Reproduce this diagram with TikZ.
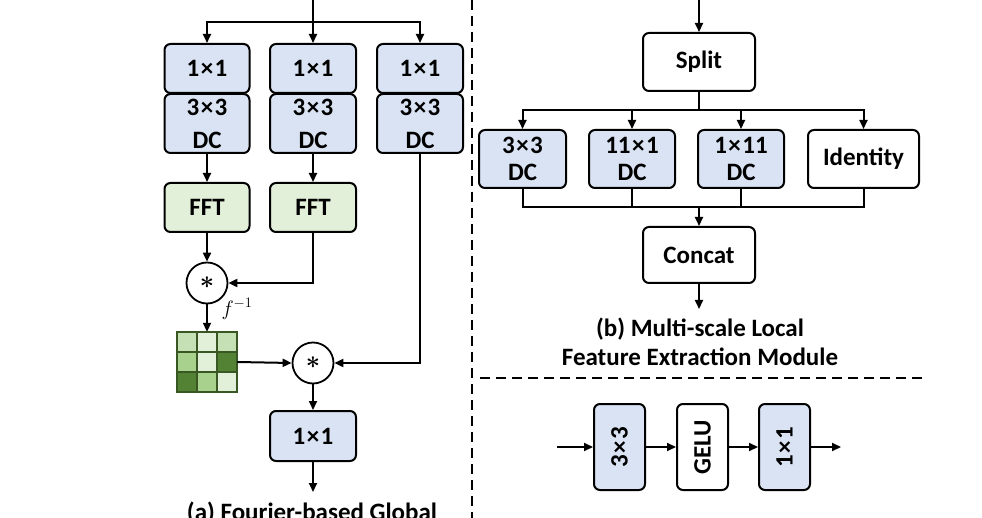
\documentclass[tikz,border=0pt]{standalone}
\usepackage{fontspec}
\setmainfont{Carlito}
\usetikzlibrary{arrows.meta}
\definecolor{bfill}{HTML}{DAE3F3}
\definecolor{gfill}{HTML}{E2F0D9}
\definecolor{gA}{HTML}{C5E0B4}
\definecolor{gB}{HTML}{E2F0D9}
\definecolor{gC}{HTML}{A9D18E}
\definecolor{gD}{HTML}{548235}
\definecolor{gline}{HTML}{385723}
\newcommand{\tms}{\kern1.5pt×\kern1.5pt}
\tikzset{
  blk/.style={draw=black, line width=2pt, rounded corners=6pt, align=center, inner sep=1pt,
    font=\fontsize{25}{27}\selectfont\bfseries},
  bluebox/.style={blk, fill=bfill},
  greenbox/.style={blk, fill=gfill},
  whitebox/.style={blk, fill=white},
  opcirc/.style={circle, draw=black, line width=1.8pt, minimum size=41pt, inner sep=0pt, font=\fontsize{30}{30}\selectfont\boldmath},
  arr/.style={line width=2pt, -{Triangle[length=9pt,width=8pt]}},
  ln/.style={line width=2pt},
  caption/.style={font=\fontsize{25}{29}\selectfont\bfseries, align=center},
  sep/.style={line width=2pt, dash pattern=on 10pt off 6pt},
}
\begin{document}
\begin{tikzpicture}[x=1pt,y=-1pt]
\useasboundingbox (0,0) rectangle (982,518);

% ---------- (a) ----------
\coordinate (ain) at (313,0);
\coordinate (abr) at (313,22);
\node[bluebox, minimum width=85pt, minimum height=49pt] (a11) at (207,68.5) {1\tms1};
\node[bluebox, minimum width=86pt, minimum height=49pt] (a21) at (313,68.5) {1\tms1};
\node[bluebox, minimum width=86pt, minimum height=49pt] (a31) at (420,68.5) {1\tms1};
\node[bluebox, minimum width=85pt, minimum height=59pt] (a12) at (207,123.5) {3\tms3\\[6pt]DC};
\node[bluebox, minimum width=86pt, minimum height=59pt] (a22) at (313,123.5) {3\tms3\\[6pt]DC};
\node[bluebox, minimum width=86pt, minimum height=59pt] (a32) at (420,123.5) {3\tms3\\[6pt]DC};
\node[greenbox, minimum width=85pt, minimum height=49pt] (f1) at (207,207.5) {FFT};
\node[greenbox, minimum width=86pt, minimum height=49pt] (f2) at (313,207.5) {FFT};
\node[opcirc] (m1) at (207,283) {$\ast$};
\node[font=\fontsize{21}{21}\selectfont] (finv) at (237,309) {$f^{-1}$};
\node[opcirc] (m2) at (313,363) {$\ast$};
\node[bluebox, minimum width=86pt, minimum height=50pt] (a4) at (313,436) {1\tms1};
\coordinate (aout) at (313,492);

% grid
\fill[gA] (177,332) rectangle (197,352);
\fill[gB] (197,332) rectangle (217,352);
\fill[gA] (217,332) rectangle (237,352);
\fill[gC] (177,352) rectangle (197,372);
\fill[gB] (197,352) rectangle (217,372);
\fill[gD] (217,352) rectangle (237,372);
\fill[gD] (177,372) rectangle (197,392);
\fill[gC] (197,372) rectangle (217,392);
\fill[gB] (217,372) rectangle (237,392);
\draw[gline, line width=1.5pt] (197,332) -- (197,392) (217,332) -- (217,392)
  (177,352) -- (237,352) (177,372) -- (237,372);
\draw[gline, line width=1.5pt] (177,332) rectangle (237,392);
\node[minimum size=60pt, inner sep=0pt] (grid) at (207,362) {};

\draw[ln] (ain) -- (abr);
\draw[arr] (abr) -| (a11.north);
\draw[arr] (abr) -- (a21.north);
\draw[arr] (abr) -| (a31.north);
\draw[arr] (a12) -- (f1);
\draw[arr] (a22) -- (f2);
\draw[arr] (f1) -- (m1);
\draw[arr] (f2.south) |- (m1.east);
\draw[arr] (m1) -- (grid.north);
\draw[arr] (grid.east) -- (m2.west);
\draw[arr] (a32.south) |- (m2.east);
\draw[arr] (m2) -- (a4);
\draw[arr] (a4) -- (aout);
\node[caption, anchor=base] (capa) at (312,520) {(a) Fourier-based Global};

% separators
\coordinate (v1) at (472,0);
\coordinate (v2) at (472,518);
\draw[sep] (v1) -- (v2);
\coordinate (h1) at (480,378);
\coordinate (h2) at (922,378);
\draw[sep] (h1) -- (h2);

% ---------- (b) ----------
\coordinate (bin) at (699,0);
\node[whitebox, minimum width=112pt, minimum height=58pt] (split) at (699,62) {Split};
\node[bluebox, minimum width=87pt, minimum height=58pt] (b1) at (522.5,159) {3\tms3\\DC};
\node[bluebox, minimum width=86pt, minimum height=58pt] (b2) at (632,159) {11\tms1\\DC};
\node[bluebox, minimum width=86pt, minimum height=58pt] (b3) at (741,159) {1\tms11\\DC};
\node[whitebox, minimum width=111pt, minimum height=58pt] (b4) at (863.5,159) {Identity};
\node[whitebox, minimum width=112pt, minimum height=56pt] (concat) at (699,255) {Concat};
\coordinate (bbr) at (699,110);
\coordinate (bmg) at (699,207);
\coordinate (bout) at (699,309);

\draw[arr] (bin) -- (split);
\draw[ln] (split.south) -- (bbr);
\draw[arr] (bbr) -| (b1.north);
\draw[arr] (bbr) -| (b2.north);
\draw[arr] (bbr) -| (b3.north);
\draw[arr] (bbr) -| (b4.north);
\draw[ln] (b1.south) |- (bmg);
\draw[ln] (b2.south) |- (bmg);
\draw[ln] (b3.south) |- (bmg);
\draw[ln] (b4.south) |- (bmg);
\draw[arr] (bmg) -- (concat);
\draw[arr] (concat) -- (bout);
\node[caption] (capb) at (700,342) {(b) Multi-scale Local\\Feature Extraction Module};

% ---------- (c) ----------
\coordinate (cin) at (557,447);
\node[bluebox, minimum width=51pt, minimum height=86pt] (c1) at (619.5,447) {\rotatebox{90}{3\tms3}};
\node[whitebox, minimum width=51pt, minimum height=86pt] (c2) at (702.5,447) {\rotatebox{90}{GELU}};
\node[bluebox, minimum width=51pt, minimum height=86pt] (c3) at (784.5,447) {\rotatebox{90}{1\tms1}};
\coordinate (cout) at (841,447);
\draw[arr] (cin) -- (c1);
\draw[arr] (c1) -- (c2);
\draw[arr] (c2) -- (c3);
\draw[arr] (c3) -- (cout);
\end{tikzpicture}
\end{document}
